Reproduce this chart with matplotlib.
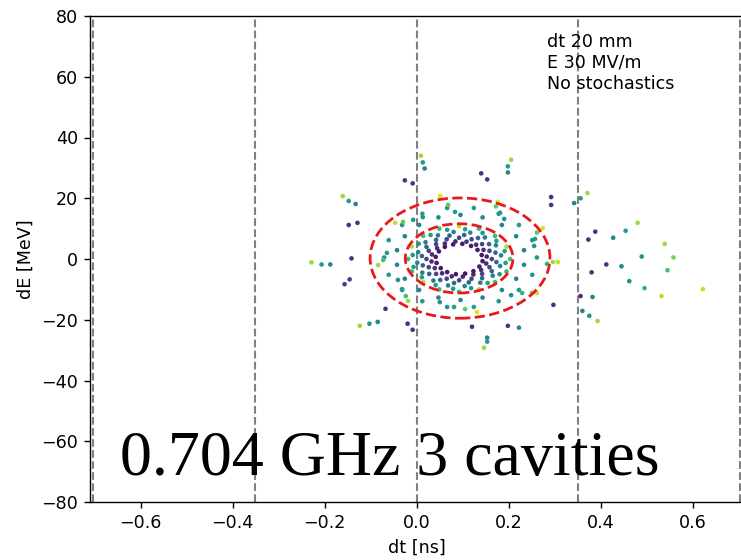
import matplotlib
matplotlib.use('Agg')
import matplotlib.pyplot as plt
from matplotlib.patches import Ellipse
import numpy as np

# ---------------- data ----------------
# inner spiral arms: 16 arms x 7 particles (dt [ns], dE [MeV], colour value)
arm_dt = [
    0.203, 0.193, 0.181, 0.163, 0.142, 0.123, 0.105,
    0.195, 0.191, 0.183, 0.173, 0.158, 0.140, 0.123,
    0.170, 0.173, 0.172, 0.171, 0.163, 0.151, 0.136,
    0.135, 0.143, 0.148, 0.157, 0.158, 0.152, 0.143,
    0.092, 0.105, 0.116, 0.133, 0.142, 0.145, 0.141,
    0.049, 0.066, 0.080, 0.103, 0.119, 0.129, 0.132,
    0.014, 0.030, 0.046, 0.071, 0.092, 0.108, 0.118,
    -0.011, 0.004, 0.019, 0.042, 0.065, 0.084, 0.099,
    -0.019, -0.009, 0.003, 0.021, 0.042, 0.061, 0.079,
    -0.011, -0.007, 0.001, 0.011, 0.026, 0.044, 0.061,
    0.014, 0.011, 0.012, 0.013, 0.021, 0.033, 0.048,
    0.049, 0.041, 0.036, 0.027, 0.026, 0.032, 0.041,
    0.092, 0.079, 0.068, 0.051, 0.042, 0.039, 0.043,
    0.135, 0.118, 0.104, 0.081, 0.065, 0.055, 0.052,
    0.170, 0.154, 0.138, 0.113, 0.092, 0.076, 0.066,
    0.195, 0.180, 0.165, 0.142, 0.119, 0.100, 0.085]
arm_dE = [
    0.0, -1.3, -2.3, -4.0, -4.9, -5.1, -4.8,
    4.1, 2.6, 1.2, -1.0, -2.7, -3.6, -4.0,
    7.6, 6.0, 4.5, 2.1, 0.0, -1.5, -2.5,
    10.0, 8.6, 7.1, 4.9, 2.7, 0.8, -0.7,
    10.8, 9.8, 8.7, 6.9, 4.9, 3.0, 1.3,
    10.0, 9.6, 8.9, 7.9, 6.5, 4.7, 3.0,
    7.6, 7.9, 7.8, 7.7, 7.0, 5.7, 4.3,
    4.1, 5.0, 5.5, 6.3, 6.5, 5.8, 5.0,
    0.0, 1.3, 2.3, 4.0, 4.9, 5.1, 4.8,
    -4.1, -2.6, -1.2, 1.0, 2.7, 3.6, 4.0,
    -7.6, -6.0, -4.5, -2.1, 0.0, 1.5, 2.5,
    -10.0, -8.6, -7.1, -4.9, -2.7, -0.8, 0.7,
    -10.8, -9.8, -8.7, -6.9, -4.9, -3.0, -1.3,
    -10.0, -9.6, -8.9, -7.9, -6.5, -4.7, -3.0,
    -7.6, -7.9, -7.8, -7.7, -7.0, -5.7, -4.3,
    -4.1, -5.0, -5.5, -6.3, -6.5, -5.8, -5.0]
arm_c = [
    0.70, 0.56, 0.44, 0.32, 0.21, 0.12, 0.06,
    0.88, 0.58, 0.45, 0.33, 0.22, 0.13, 0.06,
    0.68, 0.55, 0.43, 0.31, 0.20, 0.12, 0.07,
    0.66, 0.54, 0.42, 0.30, 0.21, 0.12, 0.06,
    0.90, 0.57, 0.45, 0.33, 0.22, 0.13, 0.06,
    0.68, 0.55, 0.44, 0.32, 0.21, 0.12, 0.07,
    0.70, 0.56, 0.43, 0.31, 0.20, 0.13, 0.06,
    0.87, 0.54, 0.42, 0.32, 0.22, 0.12, 0.06,
    0.68, 0.55, 0.44, 0.33, 0.21, 0.13, 0.07,
    0.66, 0.56, 0.45, 0.32, 0.20, 0.12, 0.06,
    0.88, 0.57, 0.43, 0.31, 0.22, 0.13, 0.06,
    0.69, 0.54, 0.42, 0.32, 0.21, 0.12, 0.07,
    0.68, 0.55, 0.44, 0.33, 0.22, 0.13, 0.06,
    0.87, 0.56, 0.45, 0.32, 0.21, 0.12, 0.06,
    0.70, 0.57, 0.43, 0.31, 0.20, 0.13, 0.07,
    0.67, 0.54, 0.42, 0.32, 0.22, 0.12, 0.06]

# particles between the two contours
mid_dt = [
    0.233, 0.216, 0.185, 0.143, 0.095, 0.047, 0.005, -0.026, -0.043,
    -0.043, -0.026, 0.005, 0.047, 0.095, 0.143, 0.185, 0.216, 0.233,
    0.261, 0.251, 0.222, 0.178, 0.124, 0.066, 0.012, -0.032, -0.061,
    -0.071, -0.061, -0.032, 0.012, 0.066, 0.124, 0.178, 0.222, 0.251,
    0.051, 0.068, 0.083,
    -0.047, -0.030, -0.008, 0.013,
    -0.084, -0.073, -0.065,
    -0.019, -0.024, -0.032, -0.041,
    0.176, 0.172, 0.181, 0.190,
    0.274, 0.261, 0.257, 0.255,
    0.307, 0.296, 0.283,
    0.261, 0.250, 0.229, 0.205,
    0.131, 0.105, 0.081, 0.050]
mid_dE = [
    2.9, 7.5, 11.2, 13.7, 14.5, 13.7, 11.2, 7.5, 2.9,
    -1.9, -6.5, -10.2, -12.7, -13.5, -12.7, -10.2, -6.5, -1.9,
    0.5, 6.2, 11.2, 14.9, 16.8, 16.8, 14.9, 11.2, 6.2,
    0.5, -5.2, -10.2, -13.9, -15.8, -15.8, -13.9, -10.2, -5.2,
    20.8, 17.8, 15.5,
    11.9, 12.2, 12.9, 13.8,
    -2.0, -0.3, 2.0,
    -13.8, -12.2, -9.9, -6.9,
    18.8, 17.3, 15.2, 13.2,
    10.2, 8.7, 6.6, 4.3,
    -1.0, -1.0, -1.6,
    -11.2, -11.2, -11.2, -11.9,
    -17.5, -16.5, -15.8, -14.2]
mid_c = [
    0.45, 0.47, 0.44, 0.46, 0.45, 0.47, 0.44, 0.46, 0.45,
    0.47, 0.44, 0.46, 0.45, 0.47, 0.44, 0.46, 0.45, 0.47,
    0.55, 0.52, 0.56, 0.53, 0.55, 0.52, 0.56, 0.53, 0.55,
    0.52, 0.56, 0.53, 0.55, 0.52, 0.56, 0.53, 0.55, 0.52,
    0.95, 0.75, 0.55,
    0.90, 0.75, 0.55, 0.50,
    0.85, 0.70, 0.55,
    0.85, 0.70, 0.55, 0.50,
    0.95, 0.75, 0.55, 0.50,
    0.95, 0.75, 0.55, 0.50,
    0.92, 0.85, 0.65,
    0.92, 0.80, 0.65, 0.50,
    0.95, 0.75, 0.55, 0.50]

# particles outside the bucket
out_dt = [
    0.009, 0.013, 0.017, -0.026, -0.009,
    -0.161, -0.148, -0.133, -0.148, -0.129,
    -0.229, -0.207, -0.188, -0.142, -0.157, -0.146,
    -0.068, -0.124, -0.103, -0.085, -0.020, -0.009,
    0.146, 0.153, 0.153, 0.120, 0.198, 0.222, 0.297,
    0.205, 0.198, 0.198, 0.140, 0.153, 0.292, 0.292,
    0.371, 0.356, 0.342, 0.480, 0.454, 0.427, 0.388, 0.373,
    0.539, 0.558, 0.489, 0.445, 0.412, 0.380,
    0.545, 0.462, 0.495, 0.532, 0.622,
    0.356, 0.382, 0.360, 0.375, 0.393]
out_dE = [
    34.0, 31.8, 29.8, 25.9, 24.9,
    20.7, 19.1, 18.1, 11.2, 11.9,
    -1.1, -1.8, -1.8, 0.2, -8.3, -6.7,
    -16.4, -22.0, -21.3, -20.7, -21.3, -23.3,
    -29.2, -27.2, -25.9, -22.3, -22.0, -22.6, -15.1,
    32.7, 30.5, 28.5, 28.2, 26.2, 20.4, 17.8,
    21.7, 20.0, 18.4, 11.9, 9.3, 7.0, 9.0, 6.4,
    5.0, 0.5, 0.8, -2.4, -1.8, -4.4,
    -3.7, -7.3, -9.6, -12.2, -9.9,
    -12.2, -12.5, -17.1, -18.7, -20.4]
out_c = [
    0.85, 0.55, 0.45, 0.15, 0.15,
    0.85, 0.55, 0.45, 0.15, 0.15,
    0.85, 0.55, 0.45, 0.15, 0.20, 0.20,
    0.15, 0.85, 0.55, 0.45, 0.15, 0.15,
    0.85, 0.55, 0.45, 0.15, 0.15, 0.45, 0.15,
    0.85, 0.55, 0.45, 0.15, 0.15, 0.15, 0.15,
    0.85, 0.55, 0.45, 0.85, 0.55, 0.45, 0.15, 0.15,
    0.85, 0.80, 0.50, 0.45, 0.15, 0.15,
    0.70, 0.50, 0.65, 0.90, 0.92,
    0.15, 0.45, 0.45, 0.50, 0.85]

# separatrix / RF period markers
sep_lines = [-0.703, -0.3515, 0.0, 0.3515, 0.703]

# contours (centre dt, centre dE, full width ns, full height MeV)
outer_contour = (0.094, 0.3, 0.391, 39.6)
inner_contour = (0.092, 0.2, 0.234, 22.8)

annotation = "dt 20 mm\nE 30 MV/m\nNo stochastics"
big_label = "0.704 GHz 3 cavities"

# ---------------- plot ----------------
W, H = 741, 560
fig = plt.figure(figsize=(W / 100, H / 100), dpi=100)
ax = fig.add_axes([90.2 / W, 58 / H, 653.2 / W, 486 / H])

fs = 12.6
for x in sep_lines:
    ax.axvline(x, color='gray', ls='--', lw=1.5, zorder=1)

all_dt = np.array(arm_dt + mid_dt + out_dt)
all_dE = np.array(arm_dE + mid_dE + out_dE)
all_c = np.array(arm_c + mid_c + out_c)
ax.scatter(all_dt, all_dE, c=all_c, cmap='viridis', vmin=0, vmax=1,
           s=11, linewidths=0, zorder=3)

for (cx, cy, w, h) in (outer_contour, inner_contour):
    ax.add_patch(Ellipse((cx, cy), w, h, fill=False, edgecolor='#e8191c',
                         lw=2.0, ls='--', zorder=4))

ax.set_xlim(-0.71, 0.71)
ax.set_ylim(-80, 80)
ax.set_xticks([-0.6, -0.4, -0.2, 0.0, 0.2, 0.4, 0.6])
ax.set_yticks([-80, -60, -40, -20, 0, 20, 40, 60, 80])
ax.tick_params(labelsize=fs, length=4.4, width=1.0, pad=4.4)
for sp in ax.spines.values():
    sp.set_linewidth(1.0)
ax.set_xlabel('dt [ns]', fontsize=fs, labelpad=4.4)
ax.set_ylabel('dE [MeV]', fontsize=fs, labelpad=4.4)

ax.text(0.699, 0.965, annotation, transform=ax.transAxes, fontsize=fs,
        va='top', ha='left', linespacing=1.2)
ax.text(0.0456, 0.0556, big_label, transform=ax.transAxes, fontsize=46,
        family='Liberation Serif', va='baseline', ha='left')

fig.savefig('out.png', dpi=100)
